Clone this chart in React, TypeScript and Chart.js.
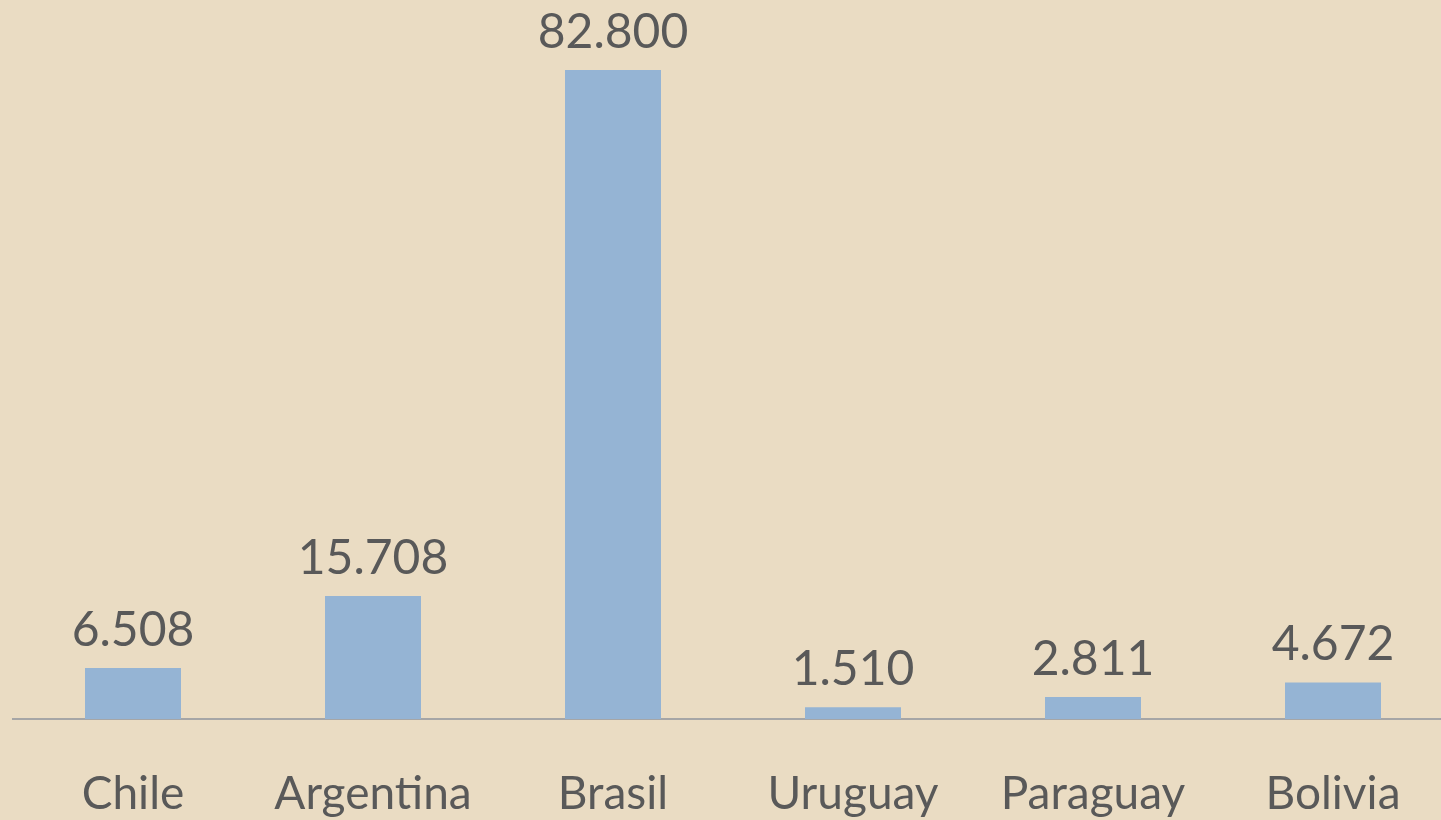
import React, { useEffect, useRef } from "react";
import { Chart, registerables } from "chart.js";

Chart.register(...registerables);

const categories = ["Chile", "Argentina", "Brasil", "Uruguay", "Paraguay", "Bolivia"];
const values = [6508, 15708, 82800, 1510, 2811, 4672];

const BG = "#eadcc3";
const BAR = "#95b4d4";
const TEXT = "#595959";
const FONT = "Lato, 'Open Sans', sans-serif";

function fmt(n: number): string {
  return String(Math.round(n)).replace(/\B(?=(\d{3})+(?!\d))/g, ".");
}

const valueLabels = {
  id: "valueLabels",
  afterDatasetsDraw(chart: any) {
    const ctx = chart.ctx;
    const meta = chart.getDatasetMeta(0);
    ctx.save();
    ctx.fillStyle = TEXT;
    ctx.font = `48px ${FONT}`;
    ctx.textAlign = "center";
    ctx.textBaseline = "alphabetic";
    meta.data.forEach((el: any, i: number) => {
      ctx.fillText(fmt(values[i]), el.x, el.y - 22);
    });
    ctx.restore();
  },
};

export default function App() {
  const ref = useRef<HTMLCanvasElement>(null);
  useEffect(() => {
    document.body.style.margin = "0";
    document.body.style.background = BG;
    const chart = new Chart(ref.current!, {
      type: "bar",
      data: {
        labels: categories,
        datasets: [
          {
            data: values,
            backgroundColor: BAR,
            borderWidth: 0,
            barPercentage: 0.4,
            categoryPercentage: 1,
          },
        ],
      },
      options: {
        responsive: false,
        animation: false,
        layout: { padding: { top: 70, left: 13, right: 7, bottom: 0 } },
        plugins: { legend: { display: false }, tooltip: { enabled: false } },
        scales: {
          x: {
            grid: { display: false, drawTicks: false },
            border: { display: true, color: "#a6a6a6", width: 2 },
            ticks: { color: TEXT, font: { family: FONT, size: 46 }, padding: 48 },
            afterFit: (scale: any) => {
              scale.height = 101;
            },
          },
          y: { display: false, min: 0, max: 82800 },
        },
      },
      plugins: [valueLabels],
    });
    return () => chart.destroy();
  }, []);
  return (
    <div style={{ position: "fixed", left: 0, top: 0, width: 1441, height: 820, overflow: "hidden", background: BG }}>
      <canvas ref={ref} width={1460} height={820} style={{ display: "block", width: 1460, height: 820 }} />
    </div>
  );
}
